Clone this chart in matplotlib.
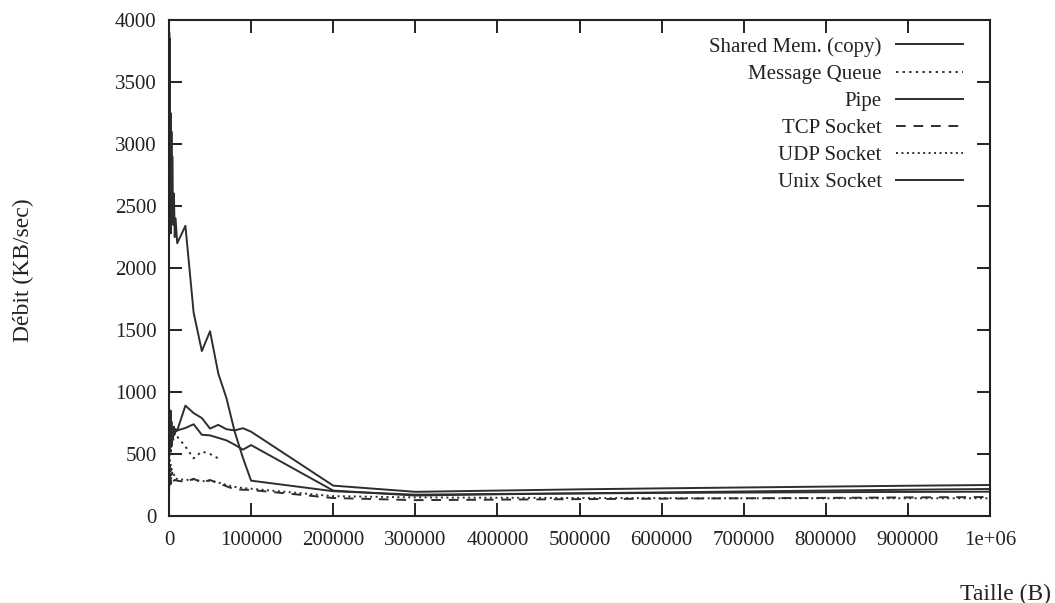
import numpy as np
import matplotlib
matplotlib.use("Agg")
import matplotlib.pyplot as plt

nan = np.nan

# Message sizes (bytes)
sizes = [100, 300, 600, 1000, 1500, 2000, 2500, 3000, 3500, 4000, 5000, 6000, 7000, 8000,
         10000, 20000, 30000, 40000, 50000, 60000, 70000, 80000, 90000, 100000,
         200000, 300000, 400000, 500000, 600000, 700000, 800000, 900000, 1000000]

shared_mem = [3200, 3900, 2300, 3850, 2500, 3250, 2280, 3100, 2400, 2900, 2350, 2600, 2250, 2400,
              2200, 2340, 1640, 1330, 1490, 1150, 950, 680, 470, 285,
              200, 172, 178, 182, 186, 189, 192, 194, 196]
message_queue = [550, 700, 480, 750, 600, 680, 520, 720, 650, 690, 600, 700, 660, 650,
                 640, 560, 465, 520, 500, 465, nan, nan, nan, nan,
                 nan, nan, nan, nan, nan, nan, nan, nan, nan]
pipe = [500, 820, 600, 780, 550, 850, 620, 760, 580, 700, 640, 720, 660, 700,
        690, 890, 830, 790, 705, 735, 700, 690, 708, 680,
        245, 195, 205, 215, 223, 230, 237, 244, 250]
tcp_socket = [200, 320, 250, 300, 280, 310, 260, 300, 290, 280, 295, 285, 290, 288,
              285, 275, 300, 270, 290, 265, 240, 215, 212, 210,
              145, 128, 132, 136, 140, 143, 146, 150, 153]
udp_socket = [250, 400, 300, 450, 350, 420, 330, 380, 320, 350, 330, 340, 310, 300,
              300, 290, 295, 280, 285, 270, 250, 235, 225, 220,
              160, 150, 147, 145, 144, 143, 143, 143, 143]
unix_socket = [450, 700, 520, 650, 800, 600, 700, 560, 680, 620, 700, 650, 690, 680,
               690, 710, 740, 655, 650, 630, 610, 575, 535, 572,
               205, 165, 175, 183, 190, 198, 205, 212, 218]

series = [
    ("Shared Mem. (copy)", shared_mem, dict(ls="-", lw=1.4)),
    ("Message Queue", message_queue, dict(ls=(0, (1.2, 2.2)), lw=1.4)),
    ("Pipe", pipe, dict(ls="-", lw=1.4)),
    ("TCP Socket", tcp_socket, dict(ls=(0, (5, 4)), lw=1.4)),
    ("UDP Socket", udp_socket, dict(ls=(0, (1.0, 1.8)), lw=1.4)),
    ("Unix Socket", unix_socket, dict(ls="-", lw=1.4)),
]

xticks = [0, 100000, 200000, 300000, 400000, 500000, 600000, 700000, 800000, 900000, 1000000]
xticklabels = ["0", "100000", "200000", "300000", "400000", "500000", "600000",
               "700000", "800000", "900000", "1e+06"]
yticks = [0, 500, 1000, 1500, 2000, 2500, 3000, 3500, 4000]

plt.rcParams['font.family'] = ['Liberation Serif', 'DejaVu Serif']
W, H = 1055, 603
fig = plt.figure(figsize=(W / 100, H / 100), dpi=100)
ax = fig.add_axes([169 / W, (H - 516) / H, (990 - 169) / W, (516 - 20) / H])

color = "#2e2e2e"
for label, vals, st in series:
    ax.plot(sizes, vals, color=color, label=label, **st)

ax.set_xlim(0, 1000000)
ax.set_ylim(0, 4000)
ax.set_xticks(xticks)
ax.set_xticklabels(xticklabels)
ax.set_yticks(yticks)
ax.tick_params(direction="in", length=9.5, width=1.4, top=True, right=True,
               labelsize=15, colors="#222222")
ax.tick_params(axis="y", pad=9)
ax.tick_params(axis="x", pad=11)
for s in ax.spines.values():
    s.set_linewidth(1.5)
    s.set_color("#222222")

leg = ax.legend(loc="upper right", bbox_to_anchor=((963 - 169) / (990 - 169), 1 - (37 - 20) / 496),
                frameon=False, markerfirst=False, fontsize=15, handlelength=3.2,
                handletextpad=0.7, labelspacing=0.36, borderaxespad=0, borderpad=0)
for t in leg.get_texts():
    t.set_color("#222222")

fig.text(23 / W, 1 - 270 / H, "Débit (KB/sec)", rotation=90, ha="center", va="center",
         fontsize=17, color="#222222")
fig.text(1006 / W, 1 - 594 / H, "Taille (B)", ha="center", va="center",
         fontsize=17, color="#222222")

fig.savefig("out.png", dpi=100, facecolor="white")
